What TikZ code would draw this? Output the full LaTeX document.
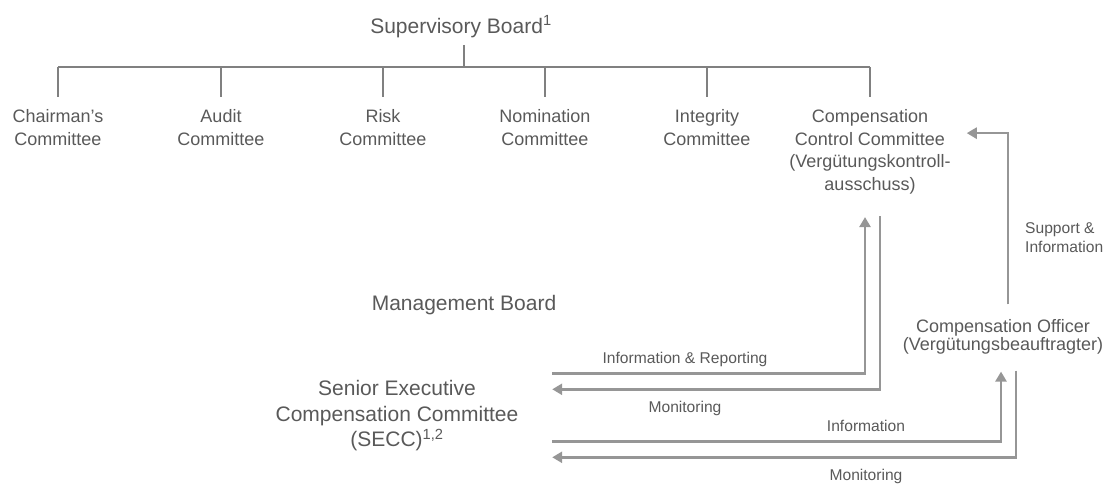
\documentclass[tikz,border=0pt]{standalone}
\usepackage{fontspec}
\setmainfont{Liberation Sans}
\usetikzlibrary{arrows.meta}
\definecolor{txtgray}{RGB}{89,89,89}
\definecolor{orggray}{RGB}{128,128,128}
\definecolor{flowgray}{RGB}{150,150,150}
\tikzset{
  lbl/.style={text=txtgray, align=center, inner sep=0pt},
  big/.style={lbl, font=\fontsize{21}{25.5}\selectfont},
  cmte/.style={lbl, anchor=north, font=\fontsize{18}{22.5}\selectfont},
  small/.style={lbl, font=\fontsize{15.6}{19}\selectfont},
  orgline/.style={draw=orggray, line width=1.2pt},
  flowline/.style={draw=flowgray, line width=2.6pt},
  flow/.style={flowline, -{Triangle[length=10pt,width=11pt]}}
}
\begin{document}
\begin{tikzpicture}[x=1pt,y=-1pt]
  \useasboundingbox (0,0) rectangle (1117,483);
  % supervisory board and its committees
  \node[big, anchor=base] (sb) at (461,33.4) {Supervisory Board\textsuperscript{1}};
  \foreach \n/\x/\t in {chair/58/{Chairman's\\Committee}, audit/221/{Audit\\Committee},
      risk/383/{Risk\\Committee}, nomin/545/{Nomination\\Committee},
      integ/707/{Integrity\\Committee},
      ccc/870/{Compensation\\Control Committee\\(Vergütungskontroll-\\ausschuss)}}
    \node[cmte] (\n) at (\x,109.4) {\t};
  \coordinate (bar) at (464,67);
  \path (bar |- sb.south) coordinate (sbfoot);
  \draw[orgline] ([yshift=-7pt]sbfoot) -- (bar);
  \draw[orgline] (bar -| chair.north) -- (bar -| ccc.north);
  \foreach \n in {chair,audit,risk,nomin,integ,ccc}
    \draw[orgline] (bar -| \n.north) -- ([yshift=12pt]\n.north);
  % management board side
  \node[big, anchor=base] (mb) at (464,310.4) {Management Board};
  \node[big, anchor=north] (secc) at (397,380.5) {Senior Executive\\Compensation Committee\\(SECC)\textsuperscript{1,2}};
  \node[cmte, font=\fontsize{18}{18}\selectfont] (co) at (1003,319.4) {Compensation Officer\\(Vergütungsbeauftragter)};
  % flows
  \draw[flow] ([shift={(33.6pt,42.7pt)}]secc.east) -| ([shift={(-5pt,-23pt)}]ccc.south);
  \draw[flow] ([shift={(10pt,-22pt)}]ccc.south) |- ([shift={(33.6pt,26.7pt)}]secc.east);
  \draw[flow] ([shift={(33.6pt,-25.3pt)}]secc.east) -| ([shift={(-2pt,-17pt)}]co.south);
  \draw[flow] ([shift={(13pt,-16pt)}]co.south) |- ([shift={(33.6pt,-41.3pt)}]secc.east);
  \draw[flow] ([shift={(5pt,15pt)}]co.north) |- ([shift={(16pt,18.6pt)}]ccc.east);
  % flow labels
  \node[small, anchor=base] (inforep) at (685,363.6) {Information \& Reporting};
  \node[small, anchor=base] (moni1) at (685,412.6) {Monitoring};
  \node[small, anchor=base] (info) at (866,431.6) {Information};
  \node[small, anchor=base] (moni2) at (866,480.6) {Monitoring};
  \node[small, anchor=north west, align=left] (suppinfo) at (1025,222) {Support \&\\Information};
\end{tikzpicture}
\end{document}
